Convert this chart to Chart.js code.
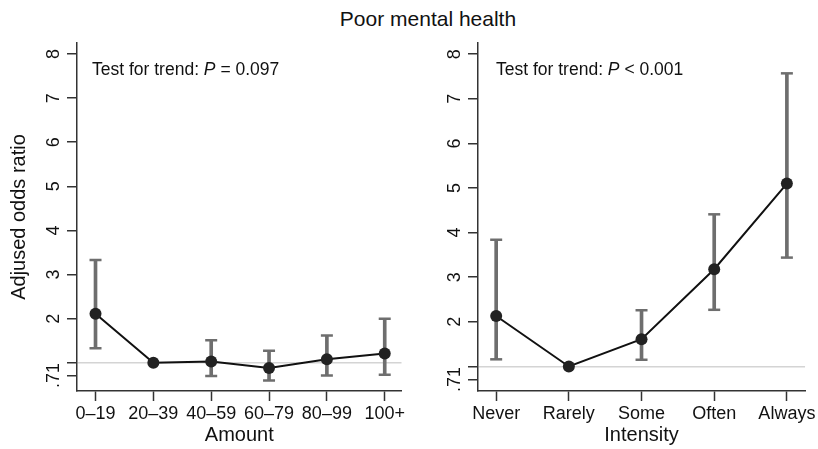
<!DOCTYPE html>
<html>
<head>
<meta charset="utf-8">
<script src="https://cdn.jsdelivr.net/npm/chart.js@4/dist/chart.umd.min.js"></script>
<style>
  body { margin: 0; background: #fff; width: 818px; height: 449px; position: relative; overflow: hidden; font-family: "Liberation Sans", Arial, sans-serif; }
  #title { position: absolute; left: 0; width: 856px; top: 8px; text-align: center; font-size: 21px; line-height: 1; color: #111; }
  .box { position: absolute; top: 0; height: 449px; }
</style>
</head>
<body>
<div id="title">Poor mental health</div>
<div class="box" style="left:0;width:410px"><canvas id="amountChart" width="410" height="449"></canvas></div>
<div class="box" style="left:410px;width:408px"><canvas id="intensityChart" width="408" height="449"></canvas></div>
<script>
// values
const amountLabels = ["0–19", "20–39", "40–59", "60–79", "80–99", "100+"];
const amountOR = [2.11, 1.00, 1.03, 0.88, 1.08, 1.21];
const amountLo = [1.33, null, 0.70, 0.60, 0.71, 0.73];
const amountHi = [3.33, null, 1.51, 1.27, 1.62, 2.00];

const intensityLabels = ["Never", "Rarely", "Some", "Often", "Always"];
const intensityOR = [2.13, 1.00, 1.61, 3.18, 5.10];
const intensityLo = [1.16, null, 1.15, 2.27, 3.44];
const intensityHi = [3.84, null, 2.26, 4.41, 7.57];

const yTicks = [0.71, 1, 2, 3, 4, 5, 6, 7, 8];

const FONT = "'Liberation Sans', Arial, sans-serif";
const AXIS = "#333";
const BAR = "#6e6e6e";

// "Test for trend" note in the top left of each panel
const trendNote = {
  id: "trendNote",
  afterDraw(chart, args, opts) {
    const c = chart.ctx, a = chart.chartArea;
    let x = a.left + opts.dx;
    const y = a.top + 32;
    c.save();
    c.fillStyle = "#111";
    c.textBaseline = "alphabetic";
    c.font = "17.5px " + FONT;
    c.fillText("Test for trend: ", x, y);
    x += c.measureText("Test for trend: ").width;
    c.font = "italic 17.5px " + FONT;
    c.fillText("P", x, y);
    x += c.measureText("P").width;
    c.font = "17.5px " + FONT;
    c.fillText(opts.text, x, y);
    c.restore();
  }
};

function makeChart(id, labels, or, lo, hi, cfg) {
  const pts = or.map((v, i) => ({ x: i, y: v }));
  const bars = [], los = [], his = [];
  lo.forEach((v, i) => {
    if (v === null) return;
    bars.push({ x: i, y: [v, hi[i]] });
    los.push({ x: i, y: v });
    his.push({ x: i, y: hi[i] });
  });
  const cap = data => ({
    type: "line", data, showLine: false, order: 1,
    pointStyle: "line", pointRadius: 6, pointBorderWidth: 2.5,
    pointBorderColor: BAR, pointBackgroundColor: BAR, pointHoverRadius: 6
  });

  return new Chart(document.getElementById(id).getContext("2d"), {
    type: "line",
    data: {
      datasets: [
        {
          type: "line", data: pts, order: 0,
          borderColor: "#111", borderWidth: 2,
          pointRadius: 6, pointBackgroundColor: "#222", pointBorderColor: "#222",
          pointBorderWidth: 0, pointHoverRadius: 6
        },
        {
          type: "bar", data: bars, order: 2,
          backgroundColor: BAR, barThickness: 3, borderWidth: 0
        },
        cap(los),
        cap(his)
      ]
    },
    options: {
      responsive: false,
      animation: false,
      layout: { padding: { left: 0, right: cfg.padRight, top: 43, bottom: 0 } },
      plugins: {
        legend: { display: false },
        tooltip: { enabled: false },
        trendNote: { text: cfg.note, dx: cfg.noteDx }
      },
      scales: {
        x: {
          type: "linear",
          offset: false,
          min: cfg.xMin, max: cfg.xMax,
          afterBuildTicks: s => { s.ticks = labels.map((_, i) => ({ value: i })); },
          afterFit: s => { s.height = 58; },
          ticks: {
            callback: v => labels[v],
            font: { family: FONT, size: 18 }, color: "#111",
            padding: 2, maxRotation: 0, autoSkip: false
          },
          grid: { offset: false, drawOnChartArea: false, tickLength: 10, tickColor: AXIS, tickWidth: 1.5 },
          border: { color: AXIS, width: 1.5 },
          title: {
            display: true, text: cfg.xTitle,
            font: { family: FONT, size: 20 }, color: "#111",
            padding: { top: 0, bottom: 2 }
          }
        },
        y: {
          type: "linear",
          min: cfg.yMin, max: 8.25,
          afterBuildTicks: s => { s.ticks = yTicks.map(v => ({ value: v })); },
          afterFit: s => { s.width = cfg.yWidth; },
          ticks: {
            callback: v => v === 0.71 ? ".71" : (v === 1 ? "" : String(v)),
            font: { family: FONT, size: 18 }, color: "#111",
            minRotation: 90, maxRotation: 90, autoSkip: false,
            crossAlign: "center", padding: 0
          },
          grid: {
            color: c => (c.tick && c.tick.value === 1) ? "#d4d4d4" : "rgba(0,0,0,0)",
            lineWidth: 1.5, tickLength: 10, tickColor: AXIS, tickWidth: 1.5
          },
          border: { color: AXIS, width: 1.5 },
          title: {
            display: cfg.yTitle !== "", text: cfg.yTitle,
            font: { family: FONT, size: 20 }, color: "#111",
            padding: { top: 7, bottom: 0 }
          }
        }
      }
    },
    plugins: [trendNote]
  });
}

makeChart("amountChart", amountLabels, amountOR, amountLo, amountHi, {
  xTitle: "Amount", yTitle: "Adjused odds ratio", note: " = 0.097", noteDx: 15,
  xMin: -0.32, xMax: 5.29, yMin: 0.36, yWidth: 77, padRight: 4
});

makeChart("intensityChart", intensityLabels, intensityOR, intensityLo, intensityHi, {
  xTitle: "Intensity", yTitle: "", note: " < 0.001", noteDx: 18,
  xMin: -0.25, xMax: 4.25, yMin: 0.45, yWidth: 68, padRight: 11
});
</script>
</body>
</html>
